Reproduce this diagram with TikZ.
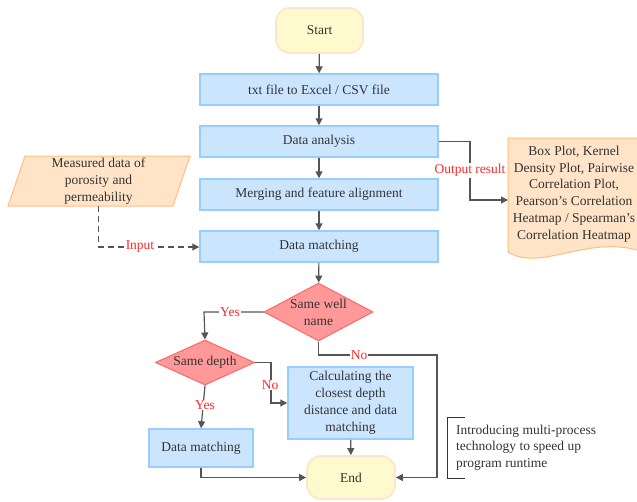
\documentclass[tikz,border=0pt]{standalone}
\usepackage{fontspec}
\setmainfont{Liberation Serif}
\usetikzlibrary{shapes.geometric,arrows.meta,positioning}
\definecolor{bfill}{RGB}{204,229,255}
\definecolor{bdraw}{RGB}{153,204,255}
\definecolor{dfill}{RGB}{255,153,153}
\definecolor{ddraw}{RGB}{255,102,102}
\definecolor{tfill}{RGB}{255,250,205}
\definecolor{tdraw}{RGB}{255,228,204}
\definecolor{ofill}{RGB}{255,228,200}
\definecolor{odraw}{RGB}{255,190,130}
\definecolor{txt}{RGB}{51,51,51}
\definecolor{lin}{RGB}{85,85,85}
\definecolor{lbl}{RGB}{255,40,40}
\tikzset{
  base/.style={font=\fontsize{13.5}{17}\selectfont, text=txt, align=center, inner sep=0pt},
  procbox/.style={base, rectangle, fill=bfill, draw=bdraw, line width=1.5pt},
  termbox/.style={base, rounded corners=14pt, fill=tfill, draw=tdraw, line width=1.8pt},
  decbox/.style={base, diamond, fill=dfill, draw=ddraw, line width=1pt},
  conn/.style={draw=lin, line width=1.2pt, -{Triangle[length=7pt,width=7pt]}},
  lab/.style={font=\fontsize{13.5}{15}\selectfont, text=lbl, fill=white, inner sep=1pt},
}
\begin{document}
\begin{tikzpicture}[x=1pt,y=-1pt]
\useasboundingbox (0,0) rectangle (637,501);
% terminals
\node[termbox, minimum width=87pt, minimum height=45pt] (start) at (319.5,30.5) {Start};
\node[termbox, minimum width=88pt, minimum height=43pt] (end) at (351,477.5) {End};
% main boxes
\node[procbox, minimum width=238pt, minimum height=31pt] (b1) at (319,89.5) {txt file to Excel / CSV file};
\node[procbox, minimum width=238pt, minimum height=31pt] (b2) at (319,141.5) {Data analysis};
\node[procbox, minimum width=238pt, minimum height=31pt] (b3) at (319,194.5) {Merging and feature alignment};
\node[procbox, minimum width=238pt, minimum height=31pt] (b4) at (319,246.5) {Data matching};
% decisions
\node[decbox, minimum width=109pt, minimum height=58pt] (d1) at (318.5,312) {};
\node[base] (d1t) at (d1) {Same well\\name};
\node[decbox, minimum width=99pt, minimum height=45pt] (d2) at (205,362.5) {};
\node[base] (d2t) at (d2) {Same depth};
% lower boxes
\node[procbox, minimum width=104pt, minimum height=38pt] (dm) at (201,448) {Data matching};
\node[procbox, minimum width=125pt, minimum height=72pt] (calc) at (350.5,403) {Calculating the\\closest depth\\distance and data\\matching};
% input parallelogram
\path[fill=ofill, draw=odraw, line width=1pt] (25,156) -- (190,156) -- (173,206) -- (8,206) -- cycle;
\node[base] (meas) at (98.5,181.5) {Measured data of\\porosity and\\permeability};
\coordinate (measb) at (98.5,206);
% output document
\path[fill=ofill, draw=odraw, line width=1pt] (637,138) -- (508,138) -- (508,252)
   .. controls (540,272) and (585,236) .. (637,250);
\node[base, font=\fontsize{13.5}{16.8}\selectfont] (doc) at (574,194) {Box Plot, Kernel\\Density Plot, Pairwise\\Correlation Plot,\\Pearson's Correlation\\Heatmap / Spearman's\\Correlation Heatmap};
\coordinate (docin) at (508,200);
% annotation
\draw[draw=txt, line width=1pt] (465,417) -- (447,417) -- (447,478) -- (465,478);
\node[base, align=left, anchor=west, font=\fontsize{13.5}{16.5}\selectfont] (note) at (456,447.5) {Introducing multi-process\\technology to speed up\\program runtime};
% connectors main flow
\draw[conn] (start) -- (b1);
\draw[conn] (b1) -- (b2);
\draw[conn] (b2) -- (b3);
\draw[conn] (b3) -- (b4);
\draw[conn] (b4) -- (d1);
% output result
\coordinate (oc1) at (470,141.5);
\draw[conn] (b2.east) -- (oc1) -- (oc1|-docin) -- (docin);
\node[lab] (olab) at (470,170.5) {Output result};
% input dashed
\coordinate (ic1) at (98.5,247);
\draw[conn, dashed, dash pattern=on 6pt off 4pt] (measb) -- (ic1) -- (b4.west|-ic1);
\node[lab] (ilab) at (140,247) {Input};
% yes from d1
\coordinate (y1) at (204,312);
\draw[conn] (d1.west) -- (y1) -- (d2.north);
\node[lab] (ylab1) at (230,312) {Yes};
% no from d1
\coordinate (n1) at (318.5,355);
\coordinate (n2) at (437,355);
\coordinate (n3) at (437,477.5);
\draw[conn] (d1.south) -- (n1) -- (n2) -- (n3) -- (end.east);
\node[lab] (nlab1) at (359,355) {No};
% d2 yes
\draw[conn] (d2.south) -- (dm.north);
\node[lab] (ylab2) at (205,405) {Yes};
% d2 no
\coordinate (m1) at (271,362.5);
\coordinate (m2) at (271,403);
\draw[conn] (d2.east) -- (m1) -- (m2) -- (calc.west);
\node[lab] (nlab2) at (270,385) {No};
% to end
\draw[conn] (calc) -- (end);
\coordinate (e1) at (201,477.5);
\draw[conn] (dm.south) -- (e1) -- (end.west);
\end{tikzpicture}
\end{document}
